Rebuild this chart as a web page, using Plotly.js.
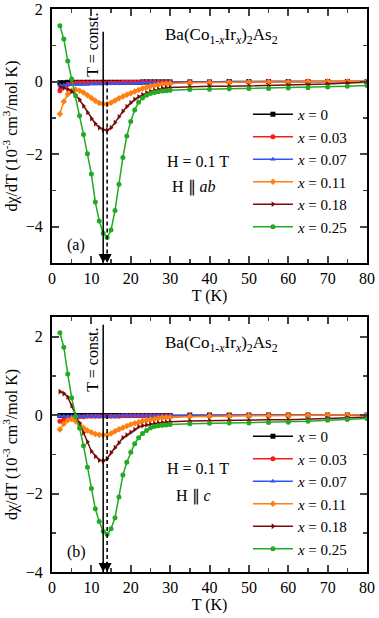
<!DOCTYPE html>
<html>
<head>
<meta charset="utf-8">
<script src="https://cdn.plot.ly/plotly-3.0.1.min.js"></script>
<style>
  html, body { margin: 0; padding: 0; background: #fff; }
  #chart { width: 379px; height: 618px; }
</style>
</head>
<body>
<div id="chart"></div>
<script>
// temperatures (K), shared by every curve
const temps = [2,3,4,5,6,7,8,9,10,11,12,13,14,15,16,17,18,19,20,21,22,23,24,25,26,27,28,29,30,
               35,40,45,50,55,60,65,70,75,80];

const labels = ["x = 0", "x = 0.03", "x = 0.07", "x = 0.11", "x = 0.18", "x = 0.25"];
const colors = ["#000000", "#ff1a1a", "#2f55ff", "#ff7f10", "#7a0a0a", "#22aa22"];
const symbols = ["square", "circle", "triangle-up", "diamond", "triangle-right", "circle"];

// panel (a): H || ab
const abX0   = [-0.03,-0.03,-0.02,-0.02,-0.02,-0.02,-0.02,-0.02,-0.02,-0.02,-0.02,-0.02,-0.02,-0.02,-0.02,-0.02,-0.02,-0.02,-0.02,-0.02,-0.02,-0.01,-0.01,-0.01,-0.01,-0.01,-0.01,-0.01,-0.01,
                -0.01,-0.01,0,0,0,0,0,0,0,0];
const abX003 = [-0.25,-0.14,-0.08,-0.05,-0.04,-0.03,-0.03,-0.03,-0.03,-0.03,-0.03,-0.03,-0.03,-0.03,-0.03,-0.03,-0.02,-0.02,-0.02,-0.02,-0.02,-0.02,-0.02,-0.02,-0.02,-0.02,-0.02,-0.02,-0.02,
                -0.01,-0.01,-0.01,-0.01,0,0,0,0,0,0];
const abX007 = [-0.1,-0.1,-0.09,-0.09,-0.08,-0.08,-0.08,-0.08,-0.07,-0.07,-0.07,-0.07,-0.06,-0.06,-0.06,-0.06,-0.05,-0.05,-0.05,-0.05,-0.04,-0.04,-0.04,-0.03,-0.03,-0.03,-0.03,-0.02,-0.02,
                -0.02,-0.01,-0.01,-0.01,0,0,0,0,0,0];
const abX011 = [-0.89,-0.55,-0.35,-0.25,-0.22,-0.25,-0.3,-0.38,-0.45,-0.53,-0.59,-0.62,-0.62,-0.58,-0.52,-0.46,-0.41,-0.36,-0.32,-0.27,-0.23,-0.19,-0.16,-0.13,-0.11,-0.09,-0.07,-0.06,-0.05,
                -0.03,-0.02,-0.02,-0.01,-0.01,-0.01,0,0,0,0.01];
const abX018 = [-0.15,-0.18,-0.21,-0.27,-0.37,-0.5,-0.67,-0.85,-1.02,-1.16,-1.27,-1.33,-1.34,-1.27,-1.13,-0.97,-0.82,-0.69,-0.58,-0.49,-0.42,-0.36,-0.31,-0.27,-0.24,-0.21,-0.19,-0.17,-0.16,
                -0.14,-0.13,-0.13,-0.12,-0.12,-0.11,-0.1,-0.07,-0.04,-0.02];
const abX025 = [1.54,1.17,0.57,0.07,-0.39,-0.94,-1.46,-1.99,-2.55,-3.32,-3.84,-4.18,-4.3,-4.09,-3.55,-2.83,-2.09,-1.5,-1.1,-0.78,-0.57,-0.45,-0.38,-0.33,-0.3,-0.28,-0.26,-0.25,-0.24,
                -0.22,-0.21,-0.2,-0.19,-0.19,-0.18,-0.17,-0.15,-0.13,-0.11];

// panel (b): H || c
const cX0   = [-0.01,-0.01,-0.01,-0.01,-0.01,-0.01,-0.01,-0.01,-0.01,-0.01,-0.01,-0.01,-0.01,-0.01,-0.01,-0.01,-0.01,-0.01,-0.01,-0.01,-0.01,-0.01,-0.01,-0.01,-0.01,-0.01,-0.01,-0.01,-0.01,
               0,0,0,0,0,0,0,0,0,0];
const cX003 = [-0.16,-0.12,-0.08,-0.06,-0.05,-0.04,-0.04,-0.03,-0.03,-0.03,-0.03,-0.03,-0.03,-0.03,-0.03,-0.03,-0.02,-0.02,-0.02,-0.02,-0.02,-0.02,-0.02,-0.02,-0.02,-0.02,-0.02,-0.02,-0.02,
               -0.01,-0.01,-0.01,-0.01,0,0,0,0,0,0];
const cX007 = [-0.03,-0.03,-0.03,-0.03,-0.03,-0.03,-0.03,-0.03,-0.03,-0.03,-0.03,-0.03,-0.03,-0.03,-0.03,-0.02,-0.02,-0.02,-0.02,-0.02,-0.02,-0.02,-0.02,-0.02,-0.02,-0.02,-0.02,-0.02,-0.02,
               -0.01,-0.01,-0.01,-0.01,0,0,0,0,0,0];
const cX011 = [-0.37,-0.22,-0.13,-0.1,-0.16,-0.24,-0.33,-0.39,-0.44,-0.48,-0.5,-0.51,-0.5,-0.47,-0.41,-0.36,-0.32,-0.28,-0.24,-0.21,-0.18,-0.15,-0.13,-0.11,-0.1,-0.08,-0.07,-0.06,-0.06,
               -0.04,-0.03,-0.03,-0.02,-0.02,-0.01,-0.01,0,0,0.01];
const cX018 = [0.6,0.55,0.46,0.24,0.01,-0.2,-0.45,-0.68,-0.92,-1.05,-1.15,-1.17,-1.11,-0.96,-0.83,-0.71,-0.58,-0.51,-0.44,-0.37,-0.3,-0.27,-0.25,-0.23,-0.22,-0.2,-0.19,-0.18,-0.17,
               -0.15,-0.14,-0.13,-0.13,-0.12,-0.12,-0.11,-0.09,-0.07,-0.05];
const cX025 = [2.1,1.73,1.05,0.44,-0.03,-0.33,-0.78,-1.33,-1.87,-2.39,-2.71,-2.96,-3.04,-2.9,-2.62,-2.09,-1.53,-1.2,-0.95,-0.73,-0.58,-0.47,-0.39,-0.33,-0.29,-0.27,-0.26,-0.25,-0.24,
               -0.22,-0.21,-0.2,-0.2,-0.19,-0.18,-0.16,-0.13,-0.11,-0.09];

const abSeries = [abX0, abX003, abX007, abX011, abX018, abX025];
const cSeries = [cX0, cX003, cX007, cX011, cX018, cX025];

// T = const. markers
const tSolid = 13;
const tDashed = 14;

const FONT = "Liberation Serif";

function makeTraces(series, xa, ya, legendName) {
  let traces = [];
  for (let i = 0; i < series.length; i++) {
    traces.push({
      x: temps,
      y: series[i],
      xaxis: xa,
      yaxis: ya,
      legend: legendName,
      type: "scatter",
      mode: "lines+markers",
      name: labels[i].replace("x", "<i>x</i>"),
      line: {color: colors[i], width: 1.5},
      marker: {color: colors[i], symbol: symbols[i], size: 5}
    });
  }
  return traces;
}

let data = makeTraces(abSeries, "x", "y", "legend").concat(makeTraces(cSeries, "x2", "y2", "legend2"));

function xAxis(anchor) {
  return {
    anchor: anchor, range: [0, 80], dtick: 10, ticks: "inside", ticklen: 7, tickwidth: 2,
    mirror: "ticks", showline: true, linewidth: 2, linecolor: "#000", showgrid: false, zeroline: false,
    minor: {dtick: 5, ticks: "inside", ticklen: 4, tickwidth: 1.5, showgrid: false},
    tickfont: {family: FONT, size: 16, color: "#000"},
    title: {text: "T (K)", font: {family: FONT, size: 16, color: "#000"}, standoff: 4}
  };
}

function yAxis(anchor, domain, range) {
  return {
    anchor: anchor, domain: domain, range: range, dtick: 2, ticks: "inside", ticklen: 7, tickwidth: 2,
    mirror: "ticks", showline: true, linewidth: 2, linecolor: "#000", showgrid: false, zeroline: false,
    minor: {dtick: 1, ticks: "inside", ticklen: 4, tickwidth: 1.5, showgrid: false},
    tickfont: {family: FONT, size: 16, color: "#000"}, ticklabelstandoff: 4,
    title: {text: "dχ/dT (10<sup>-3</sup> cm<sup>3</sup>/mol K)", font: {family: FONT, size: 16, color: "#000"}, standoff: 4}
  };
}

function legendBox(y) {
  return {
    x: 0.622, xanchor: "left", y: y, yanchor: "top", bgcolor: "rgba(0,0,0,0)",
    font: {family: FONT, size: 15, color: "#000"}, tracegroupgap: 0, itemclick: false, itemwidth: 40
  };
}

const compound = "Ba(Co<sub>1-<i>x</i></sub>Ir<sub><i>x</i></sub>)<sub>2</sub>As<sub>2</sub>";

function panelNotes(xr, yr, top, bottom, field, tag, compoundY, constY, hY, dirY, tagY) {
  let f = {family: FONT, size: 16, color: "#000"};
  return [
    {xref: xr, yref: yr, x: 43, y: compoundY, text: compound, showarrow: false, font: {family: FONT, size: 17, color: "#000"}},
    {xref: xr, yref: yr, x: 10.3, y: constY, text: "T = const.", textangle: -90, showarrow: false, font: f},
    {xref: xr, yref: yr, x: 37, y: hY, text: "H = 0.1 T", showarrow: false, font: f},
    {xref: xr, yref: yr, x: 36, y: dirY, text: "H ∥ <i>" + field + "</i>", showarrow: false, font: f},
    {xref: xr, yref: yr, x: 6.2, y: tagY, text: "(" + tag + ")", showarrow: false, font: f},
    {xref: xr, yref: yr, x: tSolid, y: bottom, axref: xr, ayref: yr, ax: tSolid, ay: bottom + 0.3,
     text: "", showarrow: true, arrowhead: 2, arrowsize: 1.2, arrowwidth: 1.5, arrowcolor: "#000"},
    {xref: xr, yref: yr, x: tDashed, y: bottom, axref: xr, ayref: yr, ax: tDashed, ay: bottom + 0.3,
     text: "", showarrow: true, arrowhead: 2, arrowsize: 1.2, arrowwidth: 1.5, arrowcolor: "#000"}
  ];
}

function panelLines(xr, yr, top, bottom) {
  return [
    {type: "line", xref: xr, yref: yr, x0: tSolid, x1: tSolid, y0: top, y1: bottom, line: {color: "#000", width: 1.5}},
    {type: "line", xref: xr, yref: yr, x0: tDashed, x1: tDashed, y0: 0, y1: bottom, line: {color: "#000", width: 1.5, dash: "4px,3px"}}
  ];
}

let layout = {
  width: 379, height: 618,
  margin: {l: 52, r: 12, t: 9, b: 46},
  paper_bgcolor: "#fff", plot_bgcolor: "#fff",
  font: {family: FONT, size: 16, color: "#000"},
  xaxis: xAxis("y"),
  yaxis: yAxis("x", [0.5488, 1], [-5, 2]),
  xaxis2: xAxis("y2"),
  yaxis2: yAxis("x2", [0, 0.4529], [-4, 2.5]),
  legend: legendBox(0.842),
  legend2: legendBox(0.27),
  annotations: panelNotes("x", "y", 1.37, -5, "ab", "a", 1.25, 1.0, -2.2, -2.9, -4.5)
    .concat(panelNotes("x2", "y2", 2.3, -4, "c", "b", 1.8, 1.4, -1.35, -2.05, -3.5)),
  shapes: panelLines("x", "y", 1.37, -5).concat(panelLines("x2", "y2", 2.3, -4))
};

Plotly.newPlot("chart", data, layout, {displayModeBar: false, staticPlot: true});
</script>
</body>
</html>
